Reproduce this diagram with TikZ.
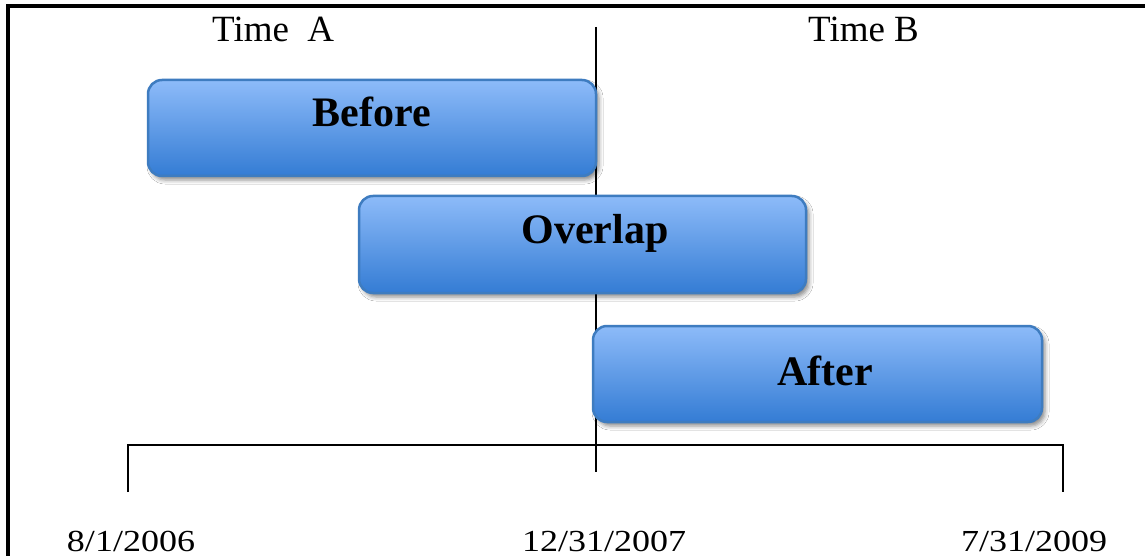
\documentclass[tikz,border=0pt]{standalone}
\usepackage{fontspec}
\setmainfont{Liberation Serif}
\usetikzlibrary{shadows.blur}
\definecolor{boxtop}{RGB}{141,187,249}
\definecolor{boxbot}{RGB}{52,124,212}
\definecolor{boxedge}{RGB}{62,124,192}
\tikzset{
  period/.style={rectangle, rounded corners=14pt, draw=boxedge, line width=2.5pt,
    top color=boxtop, bottom color=boxbot, inner sep=0pt,
    blur shadow={shadow xshift=3pt, shadow yshift=-4pt, shadow blur radius=4pt, shadow opacity=45}},
  plabel/.style={anchor=base, font=\fontsize{42}{46}\selectfont\bfseries, inner sep=0pt},
  tlabel/.style={anchor=base west, font=\fontsize{37}{40}\selectfont, inner sep=0pt},
  dlabel/.style={anchor=base, font=\fontsize{36}{40}\selectfont, inner sep=0pt},
  rule/.style={line width=2.6pt, black},
}
\begin{document}
\begin{tikzpicture}[x=1pt,y=-1pt]
\useasboundingbox (0,0) rectangle (1145,556);
\fill[white] (0,0) rectangle (1145,556);
% frame
\draw[line width=3.5pt] (8,556) -- (8,6) -- (1145,6);
% divider
\coordinate (vtop) at (596,27);
\coordinate (vbot) at (596,472);
\draw[rule] (vtop) -- (vbot);
% timeline bracket
\coordinate (l0) at (128,492);
\coordinate (l1) at (128,445);
\coordinate (r1) at (1063,445);
\coordinate (r0) at (1063,492);
\draw[rule] (l0) -- (l1) -- (r1) -- (r0);
% headings
\node[tlabel] (ta) at (212,42) {Time\ \ A};
\node[tlabel] (tb) at (808,42) {Time B};
% periods
\node[period, minimum width=448pt, minimum height=96pt] (before) at (372,128) {};
\node[plabel] (beforet) at (372,127) {Before};
\node[period, minimum width=447pt, minimum height=97pt] (overlap) at (582.5,244.5) {};
\node[plabel] (overlapt) at (595,243) {Overlap};
\node[period, minimum width=449pt, minimum height=96pt] (after) at (817.5,374) {};
\node[plabel] (aftert) at (825,385) {After};
% dates
\node[dlabel] (d1) at (131,551) {\scalebox{1}[0.85]{8/1/2006}};
\node[dlabel] (d2) at (604,551) {\scalebox{1}[0.85]{12/31/2007}};
\node[dlabel] (d3) at (1034,551) {\scalebox{1}[0.85]{7/31/2009}};
\end{tikzpicture}
\end{document}
